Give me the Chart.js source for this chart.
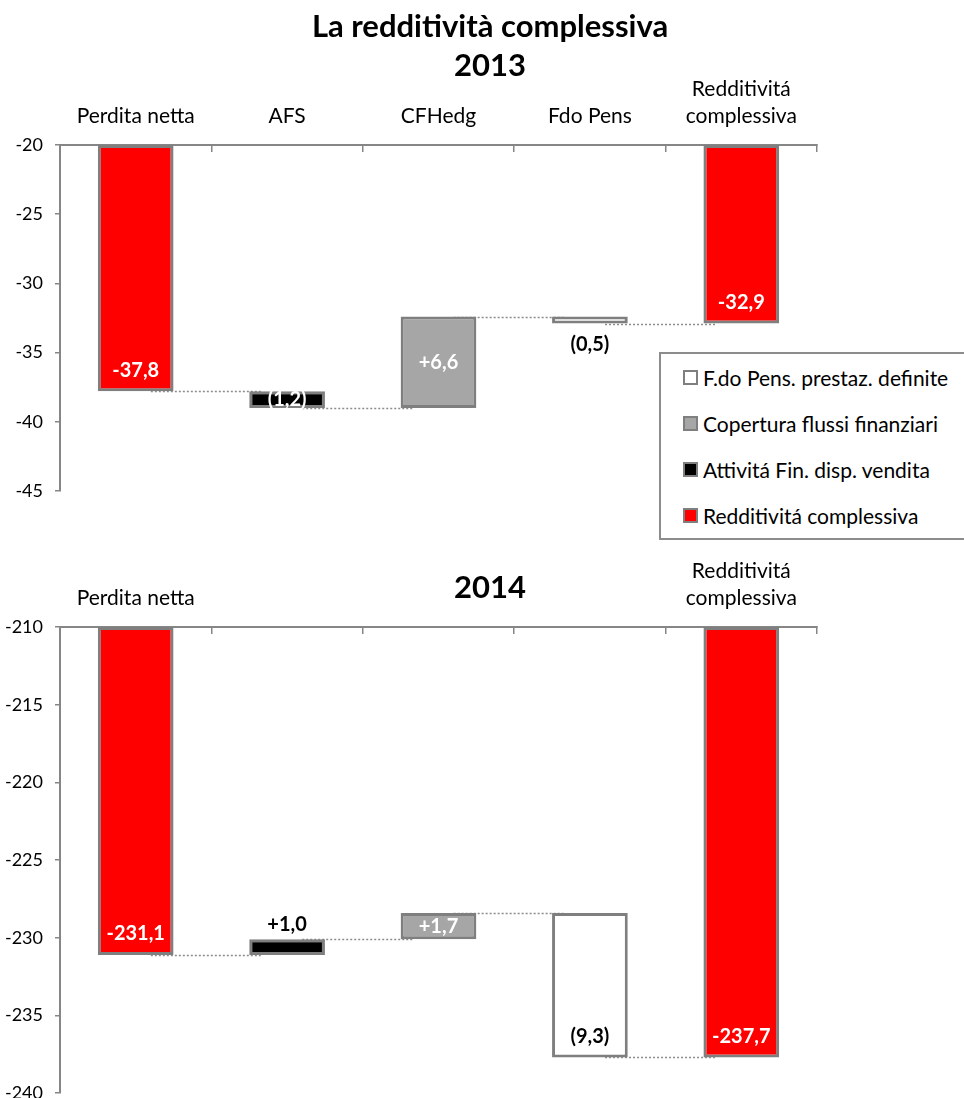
<!DOCTYPE html>
<html>
<head>
<meta charset="utf-8">
<title>La redditività complessiva</title>
<script src="https://cdn.jsdelivr.net/npm/chart.js"></script>
<style>
  body { margin: 0; width: 964px; height: 1098px; overflow: hidden; background: #fff; position: relative; font-family: Lato, sans-serif; }
  canvas { position: absolute; left: 0; }
  #chart2013 { top: 0; }
  #chart2014 { top: 545px; }
  #legend { position: absolute; left: 659px; top: 352px; width: 330px; margin: 0; padding: 0; list-style: none; border: 2px solid #8c8c8c; background: #fff; }
  #legend li { height: 46px; display: flex; align-items: center; font-size: 21px; color: #000; }
  #legend .box { width: 15px; height: 15px; box-sizing: border-box; border: 2px solid #7f7f7f; margin: 0 5px 0 22px; }
</style>
</head>
<body>
<canvas id="chart2013" width="964" height="545"></canvas>
<canvas id="chart2014" width="964" height="571"></canvas>
<ul id="legend"></ul>
<script>
const categories2013 = ['Perdita netta', 'AFS', 'CFHedg', 'Fdo Pens', ['Redditivitá', 'complessiva']]
const categories2014 = ['Perdita netta', '', '', '', ['Redditivitá', 'complessiva']]

// first and last entries are totals, the ones in between are changes
const values2013 = [-37.8, -1.2, 6.6, -0.5, -32.9]
const values2014 = [-231.1, 1.0, 1.7, -9.3, -237.7]

const yRange2013 = [-45, -20]
const yRange2014 = [-240, -210]
const yStep = 5

const legendNames = ['F.do Pens. prestaz. definite', 'Copertura flussi finanziari', 'Attivitá Fin. disp. vendita', 'Redditivitá complessiva']
const legendFills = ['#ffffff', '#a6a6a6', '#000000', '#ff0000']

const barFills = ['#ff0000', '#000000', '#a6a6a6', '#ffffff', '#ff0000']

Chart.defaults.font.family = 'Lato, sans-serif'
Chart.defaults.color = '#000'

// turn totals + changes into floating bar ranges and the running level after each bar
function waterfall(values, top) {
    const ranges = []
    const levels = []
    let level = 0
    values.forEach((v, i) => {
        if (i === 0 || i === values.length - 1) {
            ranges.push([top, v])
            level = v
        } else {
            const next = Math.round((level + v) * 10) / 10
            ranges.push([level, next])
            level = next
        }
        levels.push(level)
    })
    return { ranges, levels }
}

function labelText(v, i, n) {
    const s = Math.abs(v).toFixed(1).replace('.', ',')
    if (i === 0 || i === n - 1) return (v < 0 ? '-' : '') + s
    return v < 0 ? '(' + s + ')' : '+' + s
}

function makeChart(id, cfg) {
    const wf = waterfall(cfg.values, cfg.range[1])
    const texts = cfg.values.map((v, i) => labelText(v, i, cfg.values.length))

    // dotted steps from one bar to the next
    const connectors = {
        id: 'connectors',
        beforeDatasetsDraw(chart) {
            const { ctx, scales: { x, y } } = chart
            const w = x.getPixelForValue(1) - x.getPixelForValue(0)
            ctx.save()
            ctx.strokeStyle = '#8c8c8c'
            ctx.lineWidth = 1.5
            ctx.setLineDash([2, 2])
            for (let i = 0; i < wf.levels.length - 1; i++) {
                const py = Math.round(y.getPixelForValue(wf.levels[i])) + 0.5
                ctx.beginPath()
                ctx.moveTo(x.getPixelForValue(i) + 0.1 * w, py)
                ctx.lineTo(x.getPixelForValue(i + 1) - 0.17 * w, py)
                ctx.stroke()
            }
            ctx.restore()
        }
    }

    const barLabels = {
        id: 'barLabels',
        afterDatasetsDraw(chart) {
            const { ctx, scales: { y } } = chart
            const meta = chart.getDatasetMeta(0)
            ctx.save()
            ctx.font = 'bold 20px Lato, sans-serif'
            ctx.textAlign = 'center'
            ctx.textBaseline = 'middle'
            meta.data.forEach((bar, i) => {
                const [from, to] = wf.ranges[i]
                const pFrom = y.getPixelForValue(from)
                const pTo = y.getPixelForValue(to)
                let py
                switch (cfg.place[i]) {
                    case 'end': py = pTo > pFrom ? pTo - 21 : pTo + 21; break
                    case 'below': py = Math.max(pFrom, pTo) + 21; break
                    case 'above': py = Math.min(pFrom, pTo) - 15; break
                    default: py = (pFrom + pTo) / 2
                }
                ctx.fillStyle = cfg.ink[i]
                ctx.fillText(texts[i], bar.x, py)
            })
            ctx.restore()
        }
    }

    const headings = {
        id: 'headings',
        afterDraw(chart) {
            const ctx = chart.ctx
            ctx.save()
            ctx.font = 'bold 31px Lato, sans-serif'
            ctx.fillStyle = '#000'
            ctx.textAlign = 'center'
            ctx.textBaseline = 'middle'
            cfg.headings.forEach(h => ctx.fillText(h.text, 490, h.y))
            ctx.restore()
        }
    }

    return new Chart(document.getElementById(id), {
        type: 'bar',
        data: {
            labels: cfg.categories,
            datasets: [{
                data: wf.ranges,
                backgroundColor: barFills,
                borderColor: '#7f7f7f',
                borderWidth: 3,
                borderSkipped: false,
                barPercentage: 0.5,
                categoryPercentage: 1
            }]
        },
        options: {
            responsive: false,
            animation: false,
            layout: { padding: { top: 0, left: 0, right: 147, bottom: cfg.padBottom } },
            plugins: {
                legend: { display: false },
                tooltip: { enabled: false }
            },
            scales: {
                x: {
                    position: 'top',
                    grid: { drawOnChartArea: false, tickLength: -7, color: '#868686', lineWidth: 1.5 },
                    border: { color: '#868686', width: 2 },
                    ticks: { font: { size: 21, lineHeight: 1.25 }, padding: 23, maxRotation: 0, autoSkip: false },
                    afterFit(scale) { scale.height = cfg.axisHeight }
                },
                y: {
                    min: cfg.range[0],
                    max: cfg.range[1],
                    grid: { drawOnChartArea: false, tickLength: 5, color: '#868686', lineWidth: 1.5 },
                    border: { color: '#868686', width: 2 },
                    ticks: { stepSize: yStep, padding: 12, font: { size: 18 } },
                    afterFit(scale) { scale.width = 60 }
                }
            }
        },
        plugins: [connectors, barLabels, headings]
    })
}

makeChart('chart2013', {
    categories: categories2013,
    values: values2013,
    range: yRange2013,
    axisHeight: 145,
    padBottom: 54,
    place: ['end', 'center', 'center', 'below', 'end'],
    ink: ['#fff', '#fff', '#fff', '#000', '#fff'],
    headings: [{ text: 'La redditività complessiva', y: 27 }, { text: '2013', y: 66 }]
})

makeChart('chart2014', {
    categories: categories2014,
    values: values2014,
    range: yRange2014,
    axisHeight: 82,
    padBottom: 0,
    place: ['end', 'above', 'center', 'end', 'end'],
    ink: ['#fff', '#000', '#fff', '#000', '#fff'],
    headings: [{ text: '2014', y: 43 }]
})

const legend = document.getElementById('legend')
legendNames.forEach((name, i) => {
    const li = document.createElement('li')
    const box = document.createElement('span')
    box.className = 'box'
    box.style.background = legendFills[i]
    li.appendChild(box)
    li.appendChild(document.createTextNode(name))
    legend.appendChild(li)
})
</script>
</body>
</html>
